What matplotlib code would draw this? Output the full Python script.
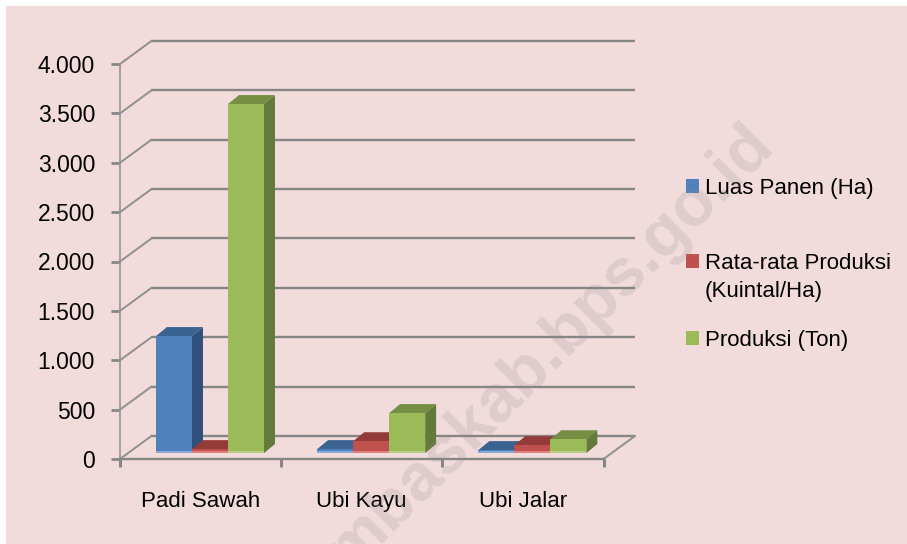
import matplotlib
matplotlib.use('Agg')
import matplotlib.pyplot as plt
from matplotlib.patches import Polygon, Rectangle

plt.rcParams['font.family'] = ['Liberation Sans', 'DejaVu Sans']

categories = ['Padi Sawah', 'Ubi Kayu', 'Ubi Jalar']
series_names = ['Luas Panen (Ha)', 'Rata-rata Produksi\n(Kuintal/Ha)', 'Produksi (Ton)']
luas_panen = [1185, 40, 30]
rata_rata = [40, 120, 80]
produksi = [3534, 405, 140]
y_ticks = [0, 500, 1000, 1500, 2000, 2500, 3000, 3500, 4000]
y_labels = ['0', '500', '1.000', '1.500', '2.000', '2.500', '3.000', '3.500', '4.000']

W, H = 907, 544
BG = '#f2dcdb'
GRID = '#868686'

# front, top, side, bottom strip
colors = [('#4f81bd', '#3b6391', '#2f5179', '#8aa9d6'),
          ('#c0504d', '#943a38', '#7a2f2d', '#e07f7c'),
          ('#9bbb59', '#758e43', '#647a3a', '#b9cf85')]

# depth of the 3d box and of the bars, in data units
back_dx, back_dy = 0.195, 233
bar_dx, bar_dy = 0.068, 91
bar_w = 0.2234
group_start = 0.2234
base_y = 60


def fx(px):
    return px / W


def fy(py):
    return 1 - py / H


fig = plt.figure(figsize=(W / 100, H / 100), dpi=100, facecolor='white')
fig.patches.append(Rectangle((fx(6), 0), 1 - fx(6), fy(6), transform=fig.transFigure,
                             facecolor=BG, edgecolor='none', zorder=-5))

ax = fig.add_axes([fx(120), fy(459), fx(603.5 - 120), fy(64) - fy(459)])
ax.patch.set_alpha(0)
ax.set_xlim(0, 3)
ax.set_ylim(0, 4000)

for s in ['top', 'right']:
    ax.spines[s].set_visible(False)
ax.spines['left'].set_color('#969696')
ax.spines['left'].set_linewidth(1.2)
ax.spines['bottom'].set_color(GRID)
ax.spines['bottom'].set_linewidth(1.7)

ax.set_yticks(y_ticks)
ax.set_yticklabels(y_labels, fontsize=16.5, color='black')
ax.tick_params(axis='y', length=6.5, width=2, color=GRID, pad=11.5)
ax.set_xticks([0, 1, 2, 3])
ax.set_xticklabels([])
ax.tick_params(axis='x', which='major', length=6, width=2.2, color=GRID)
ax.set_xticks([0.5, 1.5, 2.5], minor=True)
ax.set_xticklabels(categories, minor=True, fontsize=16, color='black')
ax.tick_params(axis='x', which='minor', length=0, pad=23)

# back wall and side wall
for v in y_ticks:
    ax.plot([back_dx, 3 + back_dx], [v + back_dy, v + back_dy], color=GRID, lw=1.7,
            clip_on=False, zorder=1, solid_capstyle='butt')
    ax.plot([0, back_dx], [v, v + back_dy], color='#8f8f8f', lw=1.4, clip_on=False, zorder=1)
ax.plot([3, 3 + back_dx], [0, back_dy], color='#8f8f8f', lw=1.4, clip_on=False, zorder=1)

# bars, drawn left to right so the next one covers the side of the previous
for i, values in enumerate([luas_panen, rata_rata, produksi]):
    front, top, side, strip = colors[i]
    for c, v in enumerate(values):
        x0 = c + group_start + i * bar_w
        x1 = x0 + bar_w
        y0 = base_y
        y1 = base_y + v
        z = 3 + c + i * 0.1
        ax.add_patch(Polygon([(x0, y1), (x1, y1), (x1 + bar_dx, y1 + bar_dy), (x0 + bar_dx, y1 + bar_dy)],
                             closed=True, fc=top, ec='none', clip_on=False, zorder=z))
        ax.add_patch(Polygon([(x1, y0), (x1 + bar_dx, y0 + bar_dy), (x1 + bar_dx, y1 + bar_dy), (x1, y1)],
                             closed=True, fc=side, ec='none', clip_on=False, zorder=z))
        ax.add_patch(Rectangle((x0, y0), bar_w, v, fc=front, ec='none', clip_on=False, zorder=z))
        ax.add_patch(Rectangle((x0, y0), bar_w, min(v, 20), fc=strip, ec='none', clip_on=False, zorder=z))

# legend
legend_y = [179, 254, 331]
for i, name in enumerate(series_names):
    sq_top = legend_y[i]
    fig.patches.append(Rectangle((fx(686), fy(sq_top + 14)), 13 / W, 14 / H, transform=fig.transFigure,
                                 facecolor=colors[i][0], edgecolor='none', zorder=5))
    fig.text(fx(705), fy(sq_top - 1), name, fontsize=16, color='black', va='top', ha='left',
             linespacing=1.42, zorder=6)

# watermark over everything
fig.text(fx(775), fy(146), 'mbaskab.bps.go.id', fontsize=48, fontweight='bold', color='#8c868c', alpha=0.2,
         rotation=45, rotation_mode='anchor', ha='right', va='baseline', zorder=10)

fig.savefig('out.png', dpi=100)
